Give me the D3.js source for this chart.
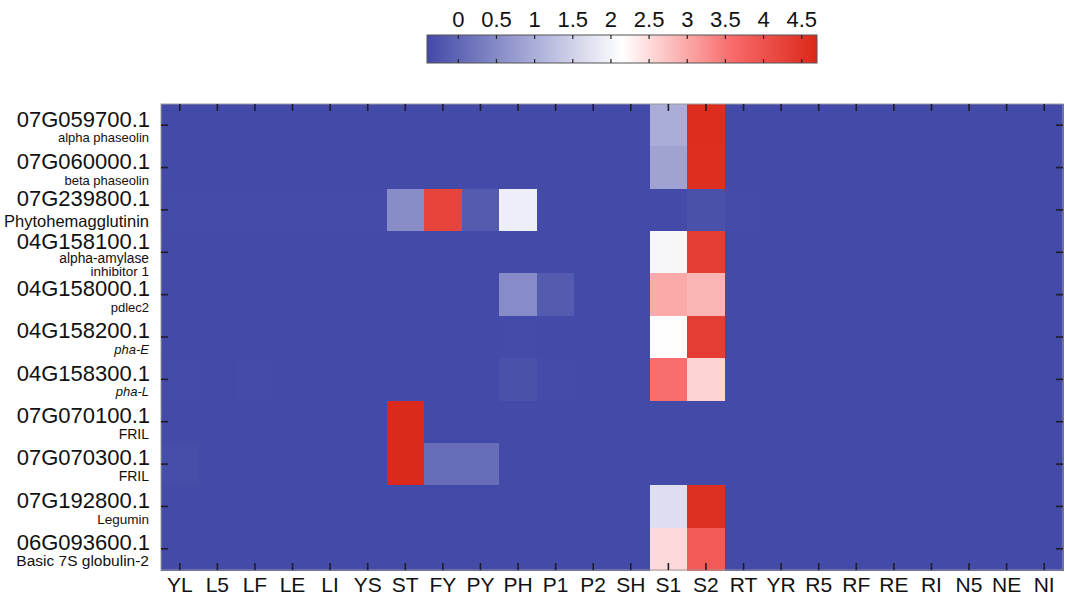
<!DOCTYPE html>
<html>
<head>
<meta charset="utf-8">
<script src="https://cdn.jsdelivr.net/npm/d3@7"></script>
<style>
  html, body { margin: 0; padding: 0; background: #fff; }
  svg { display: block; font-family: "Liberation Sans", Arial, sans-serif; }
</style>
</head>
<body>
<svg id="chart" width="1065" height="602"></svg>
<script>
// Tissue / stage columns
const tissues = ["YL","L5","LF","LE","LI","YS","ST","FY","PY","PH","P1","P2","SH","S1","S2","RT","YR","R5","RF","RE","RI","N5","NE","NI"];

// Gene identifiers and their annotations
const geneIds = ["07G059700.1","07G060000.1","07G239800.1","04G158100.1","04G158000.1","04G158200.1","04G158300.1","07G070100.1","07G070300.1","07G192800.1","06G093600.1"];
const geneNames = [["alpha phaseolin"],["beta phaseolin"],["Phytohemagglutinin"],["alpha-amylase","inhibitor 1"],["pdlec2"],["pha-E"],["pha-L"],["FRIL"],["FRIL"],["Legumin"],["Basic 7S globulin-2"]];
const italicNames = ["pha-E","pha-L"];

// Colour bar ticks
const legendTicks = [0,0.5,1,1.5,2,2.5,3,3.5,4,4.5];

// Expression values, one array per gene, in tissue order
//                 YL    L5    LF    LE    LI    YS    ST    FY    PY    PH    P1    P2    SH    S1    S2    RT    YR    R5    RF    RE    RI    N5    NE    NI
const v07G059700 = [-0.40,-0.40,-0.40,-0.40,-0.40,-0.40,-0.40,-0.40,-0.40,-0.40,-0.40,-0.40,-0.40, 1.00, 4.62,-0.40,-0.40,-0.40,-0.40,-0.40,-0.40,-0.40,-0.40,-0.40];
const v07G060000 = [-0.40,-0.40,-0.40,-0.40,-0.40,-0.40,-0.40,-0.40,-0.40,-0.40,-0.40,-0.40,-0.40, 0.85, 4.60,-0.40,-0.40,-0.40,-0.40,-0.40,-0.40,-0.40,-0.40,-0.40];
const v07G239800 = [-0.38,-0.38,-0.38,-0.38,-0.38,-0.38, 0.54, 4.23,-0.15, 1.90,-0.40,-0.40,-0.40,-0.40,-0.30,-0.38,-0.39,-0.39,-0.39,-0.39,-0.39,-0.39,-0.39,-0.39];
const v04G158100 = [-0.40,-0.40,-0.40,-0.40,-0.40,-0.40,-0.40,-0.40,-0.40,-0.40,-0.40,-0.40,-0.40, 2.02, 4.35,-0.40,-0.40,-0.40,-0.40,-0.40,-0.40,-0.40,-0.40,-0.40];
const v04G158000 = [-0.40,-0.40,-0.39,-0.39,-0.40,-0.40,-0.40,-0.40,-0.40, 0.52,-0.15,-0.40,-0.40, 2.98, 2.87,-0.40,-0.40,-0.40,-0.40,-0.40,-0.40,-0.40,-0.40,-0.40];
const v04G158200 = [-0.40,-0.40,-0.40,-0.40,-0.40,-0.40,-0.40,-0.40,-0.40,-0.38,-0.40,-0.40,-0.40, 2.15, 4.33,-0.40,-0.40,-0.40,-0.40,-0.40,-0.40,-0.40,-0.40,-0.40];
const v04G158300 = [-0.38,-0.39,-0.38,-0.39,-0.39,-0.40,-0.40,-0.40,-0.39,-0.30,-0.38,-0.39,-0.40, 3.57, 2.57,-0.40,-0.40,-0.40,-0.40,-0.40,-0.40,-0.40,-0.40,-0.40];
const v07G070100 = [-0.40,-0.40,-0.40,-0.40,-0.40,-0.40, 4.66,-0.40,-0.40,-0.40,-0.40,-0.40,-0.40,-0.40,-0.40,-0.40,-0.40,-0.40,-0.40,-0.40,-0.40,-0.40,-0.40,-0.40];
const v07G070300 = [-0.34,-0.40,-0.40,-0.40,-0.40,-0.40, 4.66, 0.10, 0.10,-0.40,-0.40,-0.40,-0.40,-0.40,-0.40,-0.40,-0.40,-0.40,-0.40,-0.40,-0.40,-0.40,-0.40,-0.40];
const v07G192800 = [-0.40,-0.40,-0.40,-0.40,-0.40,-0.40,-0.40,-0.40,-0.40,-0.40,-0.40,-0.40,-0.40, 1.68, 4.58,-0.40,-0.40,-0.40,-0.40,-0.40,-0.40,-0.40,-0.40,-0.40];
const v06G093600 = [-0.40,-0.40,-0.40,-0.40,-0.40,-0.40,-0.40,-0.40,-0.40,-0.40,-0.40,-0.40,-0.40, 2.52, 3.86,-0.40,-0.40,-0.40,-0.40,-0.40,-0.40,-0.40,-0.40,-0.40];

const values = [v07G059700, v07G060000, v07G239800, v04G158100, v04G158000, v04G158200, v04G158300, v07G070100, v07G070300, v07G192800, v06G093600];

const svg = d3.select("#chart");

// Plot frame
const plotL = 161, plotR = 1063, plotT = 104, plotB = 570;

const x = d3.scaleBand().domain(tissues).range([plotL, plotR]);
const y = d3.scaleBand().domain(geneIds).range([plotT, plotB]);

// Diverging blue-white-red map centred on the middle of the value range
const vMin = -0.41, vMax = 4.70, vMid = (vMin + vMax) / 2;
const color = d3.scaleLinear()
  .domain([vMin, vMid, 3.6, vMax])
  .range(["#4249a7", "#ffffff", "#f86a6a", "#da2819"])
  .interpolate(d3.interpolateRgb)
  .clamp(true);

// Heatmap cells
const cells = [];
geneIds.forEach((g, i) => tissues.forEach((t, j) => cells.push({ g, t, v: values[i][j] })));

svg.append("g")
  .attr("shape-rendering", "crispEdges")
  .selectAll("rect")
  .data(cells)
  .join("rect")
  .attr("x", d => x(d.t))
  .attr("y", d => y(d.g))
  .attr("width", x.bandwidth() + 1)
  .attr("height", y.bandwidth() + 1)
  .attr("fill", d => color(d.v));

// Frame
svg.append("rect")
  .attr("x", plotL).attr("y", plotT)
  .attr("width", plotR - plotL).attr("height", plotB - plotT)
  .attr("fill", "none").attr("stroke", "#9a9a9a").attr("stroke-width", 1);

// Inward ticks on all four sides
const tickLen = 7;
const tickG = svg.append("g").attr("stroke", "#1e1e2a").attr("stroke-width", 1.6);
tissues.forEach(t => {
  const cx = x(t) + x.bandwidth() / 2;
  tickG.append("line").attr("x1", cx).attr("x2", cx).attr("y1", plotT).attr("y2", plotT + tickLen);
  tickG.append("line").attr("x1", cx).attr("x2", cx).attr("y1", plotB).attr("y2", plotB - tickLen);
});
geneIds.forEach(g => {
  const cy = y(g) + y.bandwidth() / 2;
  tickG.append("line").attr("x1", plotL).attr("x2", plotL + tickLen).attr("y1", cy).attr("y2", cy);
  tickG.append("line").attr("x1", plotR).attr("x2", plotR - tickLen).attr("y1", cy).attr("y2", cy);
});

// Column labels
svg.append("g")
  .selectAll("text")
  .data(tissues)
  .join("text")
  .attr("x", d => x(d) + x.bandwidth() / 2)
  .attr("y", 592)
  .attr("text-anchor", "middle")
  .attr("font-size", 21)
  .attr("fill", "#111")
  .text(d => d);

// Row labels: identifier plus annotation
const idLift = { "07G239800.1": 5, "04G158100.1": 5 };
const nameSize = { "Phytohemagglutinin": 16.5, "Basic 7S globulin-2": 15.5, "alpha-amylase": 13.8, "inhibitor 1": 13.5, "Legumin": 13.5, "FRIL": 14 };
const rowLab = svg.append("g");
geneIds.forEach((g, i) => {
  const names = geneNames[i];
  const yt = y(g);
  const lift = idLift[g] || 0;
  rowLab.append("text")
    .attr("x", 150)
    .attr("y", yt + 22.5 - lift)
    .attr("text-anchor", "end")
    .attr("font-size", 22)
    .attr("fill", "#111")
    .text(g);
  const subStart = names.length > 1 ? yt + 31.5 : yt + 38.3;
  names.forEach((n, k) => {
    rowLab.append("text")
      .attr("x", 149)
      .attr("y", subStart + k * 13)
      .attr("text-anchor", "end")
      .attr("font-size", nameSize[n] || 13)
      .attr("font-style", italicNames.includes(n) ? "italic" : "normal")
      .attr("fill", "#111")
      .text(n);
  });
});

// Colour bar
const cbX0 = 427, cbX1 = 817, cbY0 = 35, cbY1 = 63;
const cb = d3.scaleLinear().domain([vMin, vMax]).range([cbX0, cbX1]);

const grad = svg.append("defs").append("linearGradient")
  .attr("id", "cbgrad").attr("x1", "0%").attr("x2", "100%").attr("y1", "0%").attr("y2", "0%");
d3.range(0, 1.0001, 0.02).forEach(f => {
  grad.append("stop")
    .attr("offset", (f * 100) + "%")
    .attr("stop-color", color(vMin + f * (vMax - vMin)));
});

svg.append("rect")
  .attr("x", cbX0).attr("y", cbY0)
  .attr("width", cbX1 - cbX0).attr("height", cbY1 - cbY0)
  .attr("fill", "url(#cbgrad)")
  .attr("stroke", "#555").attr("stroke-width", 1);

const cbTicks = svg.append("g").attr("stroke", "#222").attr("stroke-width", 1.2);
legendTicks.forEach(t => {
  cbTicks.append("line").attr("x1", cb(t)).attr("x2", cb(t)).attr("y1", cbY0).attr("y2", cbY0 + 4);
  cbTicks.append("line").attr("x1", cb(t)).attr("x2", cb(t)).attr("y1", cbY1).attr("y2", cbY1 - 4);
});

svg.append("g")
  .selectAll("text")
  .data(legendTicks)
  .join("text")
  .attr("x", d => cb(d))
  .attr("y", 27)
  .attr("text-anchor", "middle")
  .attr("font-size", 22)
  .attr("fill", "#111")
  .text(d => d);
</script>
</body>
</html>
